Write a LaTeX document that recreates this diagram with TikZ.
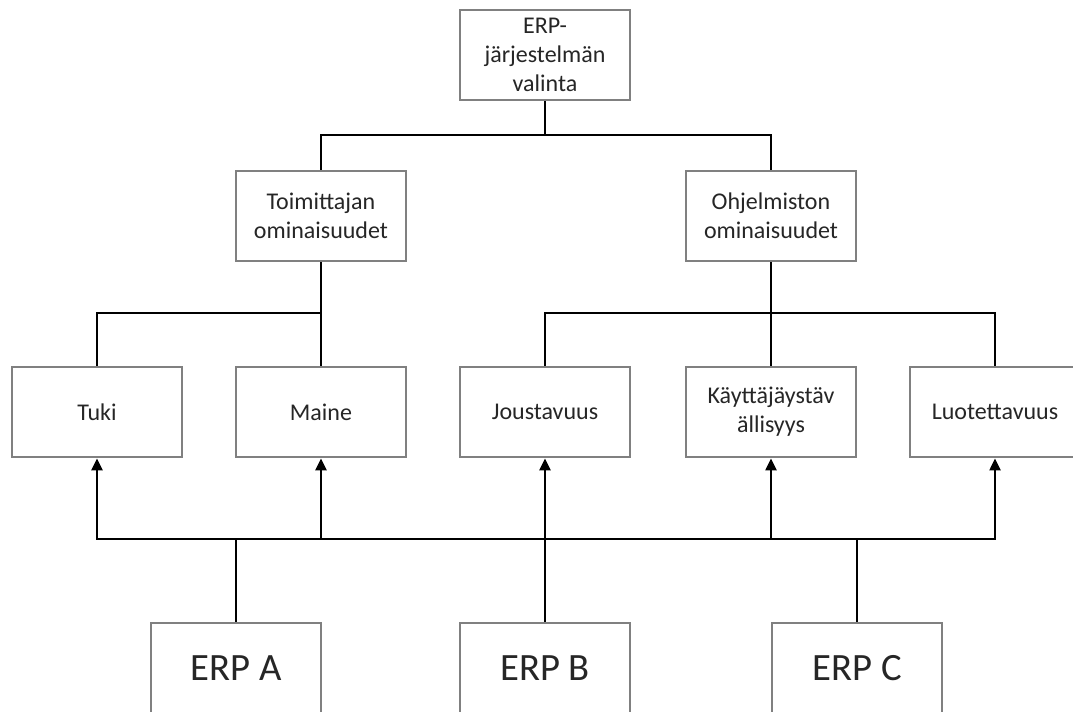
\documentclass[tikz,border=0pt]{standalone}
\usepackage{fontspec}
\setmainfont{Carlito}
\usetikzlibrary{arrows.meta}
\begin{document}
\begin{tikzpicture}[x=0.75pt,y=-0.75pt,
  box/.style={draw=black!50,line width=1.5pt,fill=white,minimum width=128pt,minimum height=68pt,inner sep=2pt,align=center,font=\fontsize{18}{21.5}\selectfont,text=black!85},
  bigbox/.style={box,font=\fontsize{29}{34}\selectfont},
  conn/.style={line width=2.2pt,black},
  arr/.style={conn,{Triangle[length=9pt,width=8pt]}-{Triangle[length=9pt,width=8pt]}},
  arrone/.style={conn,-{Triangle[length=9pt,width=8pt]}}]
\useasboundingbox (0,0) rectangle (1073,711);
\node[box] (top) at (545,55) {ERP-\\järjestelmän\\valinta};
\node[box] (toim) at (321,216) {Toimittajan\\ominaisuudet};
\node[box] (ohj) at (771,216) {Ohjelmiston\\ominaisuudet};
\node[box] (tuki) at (97,412) {Tuki};
\node[box] (maine) at (321,412) {Maine};
\node[box] (jousta) at (545,412) {Joustavuus};
\node[box] (kaytt) at (771,412) {Käyttäjäystäv\\ällisyys};
\node[box] (luot) at (995,412) {Luotettavuus};
\node[bigbox] (erpA) at (236,668) {ERP A};
\node[bigbox] (erpB) at (545,668) {ERP B};
\node[bigbox] (erpC) at (857,668) {ERP C};
\coordinate (j0) at (545,135);
\coordinate (j1) at (321,313);
\coordinate (j2) at (771,313);
\coordinate (bl) at (97,539);
\coordinate (br) at (995,539);
\draw[conn] (top.south) -- (j0);
\draw[conn] (toim.north) |- (j0) -| (ohj.north);
\draw[conn] (toim.south) -- (maine.north);
\draw[conn] (j1) -| (tuki.north);
\draw[conn] (ohj.south) -- (kaytt.north);
\draw[conn] (jousta.north) |- (j2) -| (luot.north);
\draw[arr] (tuki.south) -- (bl) -- (br) -- (luot.south);
\draw[arrone] (maine.south |- bl) -- (maine.south);
\draw[arrone] (kaytt.south |- bl) -- (kaytt.south);
\draw[arrone] (erpB.north) -- (jousta.south);
\draw[conn] (erpA.north) -- (erpA.north |- bl);
\draw[conn] (erpC.north) -- (erpC.north |- bl);
\end{tikzpicture}
\end{document}
